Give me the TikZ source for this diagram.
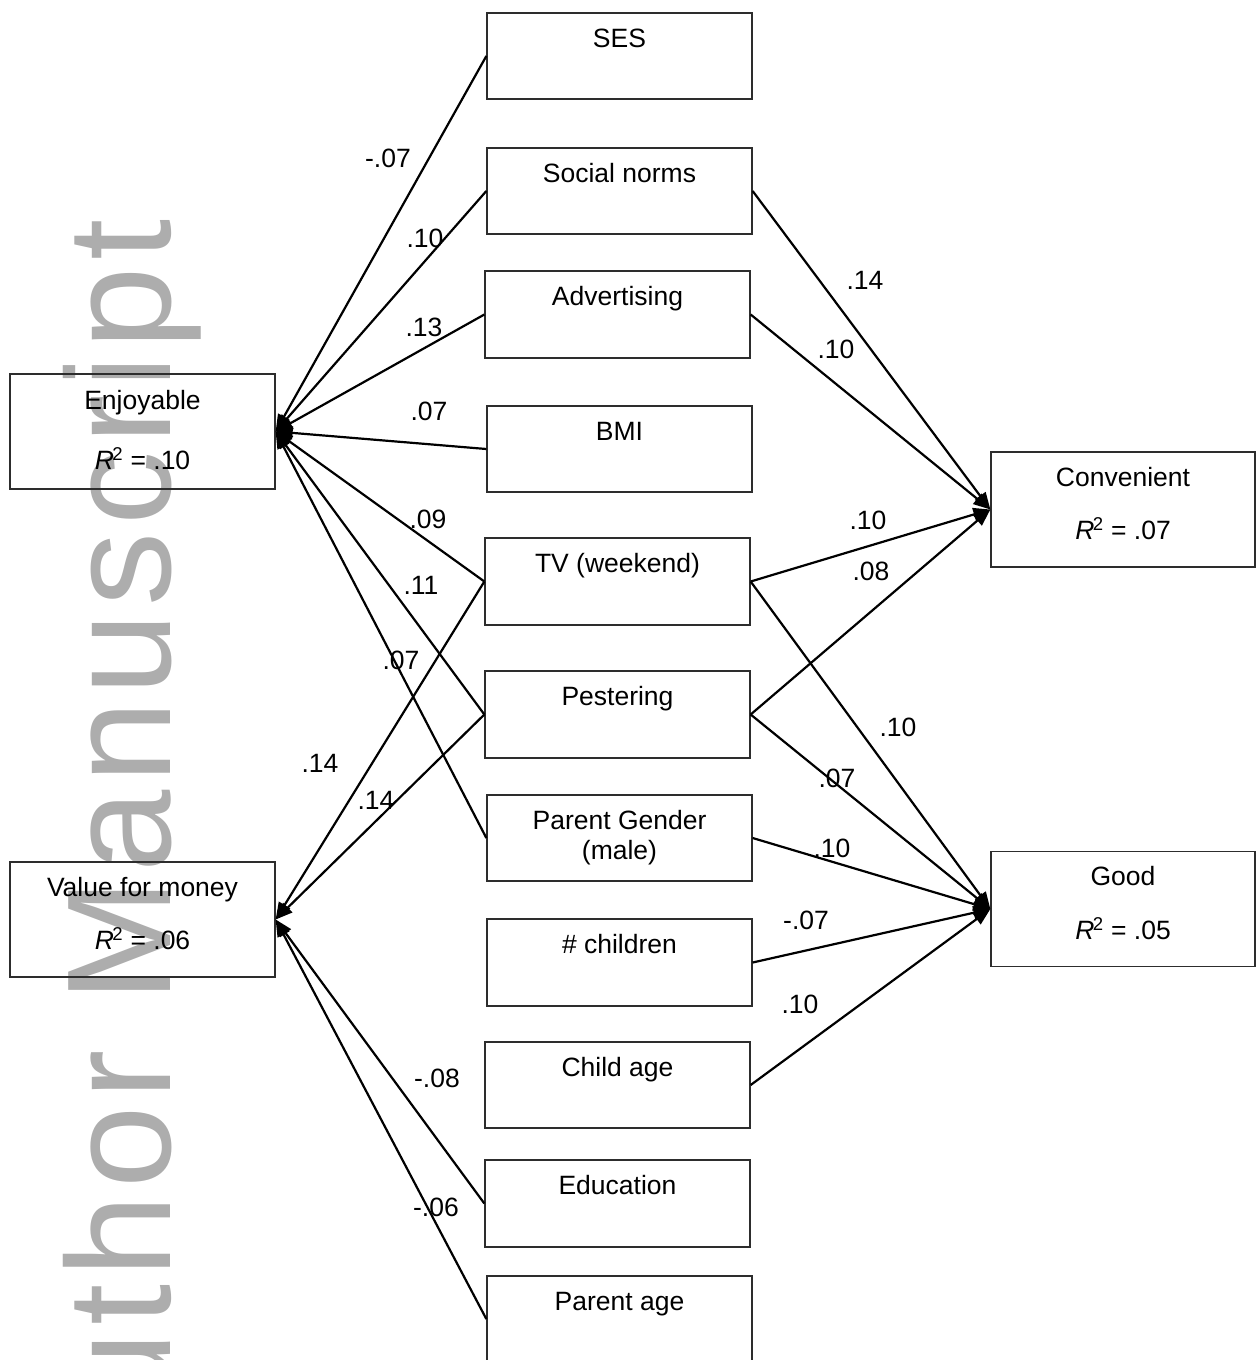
\documentclass[tikz,border=0pt]{standalone}
\usepackage{fontspec}
\setmainfont{Liberation Sans}
\newfontfamily\wmfont[LetterSpace=4.5]{Liberation Sans}
\usetikzlibrary{arrows.meta,calc}
\definecolor{wmgray}{RGB}{173,173,173}
\definecolor{boxline}{RGB}{45,45,45}
\begin{document}
\begin{tikzpicture}[x=1pt,y=-1pt,
  box/.style={draw=boxline, line width=1.3pt, inner sep=0pt, minimum width=265pt, minimum height=86pt},
  bigbox/.style={draw=boxline, line width=1.3pt, inner sep=0pt, minimum width=265pt, minimum height=115pt},
  txt/.style={inner sep=0pt, anchor=base, font=\fontsize{26.5}{30}\selectfont},
  lab/.style={inner sep=0pt, font=\fontsize{26.5}{30}\selectfont},
  arr/.style={line width=2.2pt, -{Triangle[length=17pt,width=13pt]}},
  wm/.style={inner sep=0pt, text=wmgray, font=\wmfont\fontsize{148}{150}\selectfont}
]
\clip (0,0) rectangle (1259,1360);
% watermark
\node[wm, rotate=90, anchor=base west] (wmark) at (170,1520) {Author Manuscript};

% left boxes
\node[bigbox] (enj) at (142.5,431.5) {};
\node[bigbox] (val) at (142.5,919.5) {};
% right boxes
\node[bigbox, minimum width=264pt] (con) at (1123,509.5) {};
\node[bigbox, minimum width=264pt] (good) at (1123,909) {};

% middle boxes
\node[box] (ses) at (619.5,56) {};
\node[box] (soc) at (619.5,191) {};
\node[box, minimum height=87pt] (adv) at (617.5,314.5) {};
\node[box] (bmi) at (619.5,449) {};
\node[box, minimum height=87pt] (tv) at (617.5,581.5) {};
\node[box, minimum height=87pt] (pes) at (617.5,714.5) {};
\node[box] (pg) at (619.5,838) {};
\node[box, minimum height=87pt] (chi) at (619.5,962.5) {};
\node[box] (cag) at (617.5,1085) {};
\node[box, minimum height=87pt] (edu) at (617.5,1203.5) {};
\node[box] (pag) at (619.5,1319) {};

% box texts
\node[txt] (enjt) at ($(enj.north)+(0,36)$) {Enjoyable};
\node[txt] (enjr) at ($(enj.north)+(0,96)$) {\textit{R}\kern-1.5pt\textsuperscript{2} = .10};
\node[txt] (valt) at ($(val.north)+(0,35)$) {Value for money};
\node[txt] (valr) at ($(val.north)+(0,88)$) {\textit{R}\kern-1.5pt\textsuperscript{2} = .06};
\node[txt] (cont) at ($(con.north)+(0,35)$) {Convenient};
\node[txt] (conr) at ($(con.north)+(0,88)$) {\textit{R}\kern-1.5pt\textsuperscript{2} = .07};
\node[txt] (goodt) at ($(good.north)+(0,35)$) {Good};
\node[txt] (goodr) at ($(good.north)+(0,89)$) {\textit{R}\kern-1.5pt\textsuperscript{2} = .05};

\node[txt] (sest) at ($(ses.north)+(0,35.5)$) {SES};
\node[txt] (soct) at ($(soc.north)+(0,35.5)$) {Social norms};
\node[txt] (advt) at ($(adv.north)+(0,35.5)$) {Advertising};
\node[txt] (bmit) at ($(bmi.north)+(0,35.5)$) {BMI};
\node[txt] (tvt) at ($(tv.north)+(0,35.5)$) {TV (weekend)};
\node[txt] (pest) at ($(pes.north)+(0,35.5)$) {Pestering};
\node[txt] (pgt) at ($(pg.north)+(0,35.5)$) {Parent Gender};
\node[txt] (pgt2) at ($(pg.north)+(0,65)$) {(male)};
\node[txt] (chit) at ($(chi.north)+(0,35.5)$) {\# children};
\node[txt] (cagt) at ($(cag.north)+(0,35.5)$) {Child age};
\node[txt] (edut) at ($(edu.north)+(0,35.5)$) {Education};
\node[txt] (pagt) at ($(pag.north)+(0,35.5)$) {Parent age};

% connectors to Enjoyable
\draw[arr] (ses.west) -- (enj.east);
\draw[arr] (soc.west) -- (enj.east);
\draw[arr] (adv.west) -- (enj.east);
\draw[arr] (bmi.west) -- (enj.east);
\draw[arr] (tv.west) -- (enj.east);
\draw[arr] (pes.west) -- (enj.east);
\draw[arr] (pg.west) -- (enj.east);
% connectors to Value for money
\draw[arr] (tv.west) -- (val.east);
\draw[arr] (pes.west) -- (val.east);
\draw[arr] (edu.west) -- (val.east);
\draw[arr] (pag.west) -- (val.east);
% connectors to Convenient
\draw[arr] (soc.east) -- (con.west);
\draw[arr] (adv.east) -- (con.west);
\draw[arr] (tv.east) -- (con.west);
\draw[arr] (pes.east) -- (con.west);
% connectors to Good
\draw[arr] (tv.east) -- (good.west);
\draw[arr] (pes.east) -- (good.west);
\draw[arr] (pg.east) -- (good.west);
\draw[arr] (chi.east) -- (good.west);
\draw[arr] (cag.east) -- (good.west);

% labels
\node[lab] (l1) at (388,158) {-.07};
\node[lab] (l2) at (425,238) {.10};
\node[lab] (l3) at (424,327) {.13};
\node[lab] (l4) at (429,411) {.07};
\node[lab] (l5) at (428,519) {.09};
\node[lab] (l6) at (421,585) {.11};
\node[lab] (l7) at (401,660) {.07};
\node[lab] (l8) at (320,763) {.14};
\node[lab] (l9) at (376,800) {.14};
\node[lab] (l10) at (437,1078) {-.08};
\node[lab] (l11) at (436,1207) {-.06};
\node[lab] (r1) at (865,280) {.14};
\node[lab] (r2) at (836,349) {.10};
\node[lab] (r3) at (868,520) {.10};
\node[lab] (r4) at (871,571) {.08};
\node[lab] (r5) at (898,727) {.10};
\node[lab] (r6) at (837,778) {.07};
\node[lab] (r7) at (832,848) {.10};
\node[lab] (r8) at (806,920) {-.07};
\node[lab] (r9) at (800,1004) {.10};
\end{tikzpicture}
\end{document}
